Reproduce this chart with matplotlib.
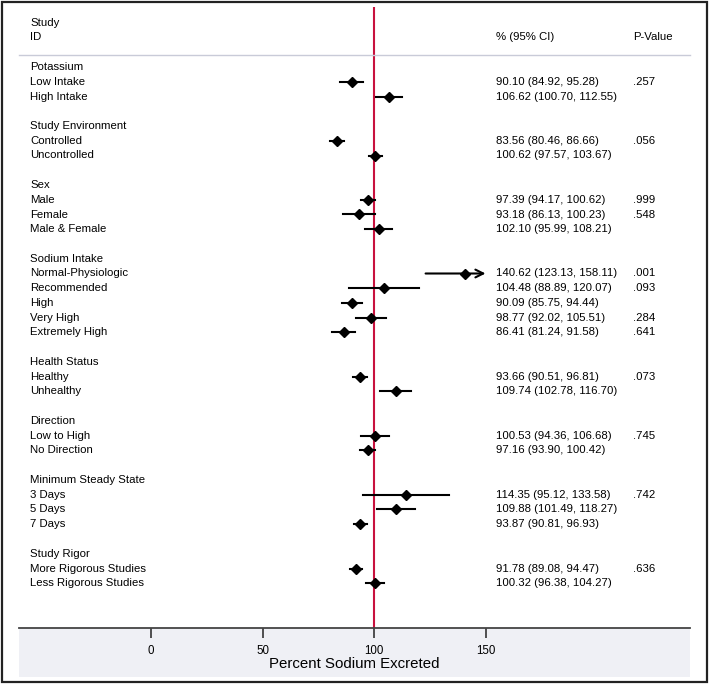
import matplotlib
matplotlib.use("Agg")
from matplotlib import pyplot as plt
from matplotlib.patches import Rectangle

# data
groups = ["Potassium", "Study Environment", "Sex", "Sodium Intake",
          "Health Status", "Direction", "Minimum Steady State", "Study Rigor"]
labels = [
    ["Low Intake", "High Intake"],
    ["Controlled", "Uncontrolled"],
    ["Male", "Female", "Male & Female"],
    ["Normal-Physiologic", "Recommended", "High", "Very High", "Extremely High"],
    ["Healthy", "Unhealthy"],
    ["Low to High", "No Direction"],
    ["3 Days", "5 Days", "7 Days"],
    ["More Rigorous Studies", "Less Rigorous Studies"],
]
est = [[90.10, 106.62], [83.56, 100.62], [97.39, 93.18, 102.10],
       [140.62, 104.48, 90.09, 98.77, 86.41], [93.66, 109.74],
       [100.53, 97.16], [114.35, 109.88, 93.87], [91.78, 100.32]]
lo = [[84.92, 100.70], [80.46, 97.57], [94.17, 86.13, 95.99],
      [123.13, 88.89, 85.75, 92.02, 81.24], [90.51, 102.78],
      [94.36, 93.90], [95.12, 101.49, 90.81], [89.08, 96.38]]
hi = [[95.28, 112.55], [86.66, 103.67], [100.62, 100.23, 108.21],
      [158.11, 120.07, 94.44, 105.51, 91.58], [96.81, 116.70],
      [106.68, 100.42], [133.58, 118.27, 96.93], [94.47, 104.27]]
pvals = [[".257", ""], [".056", ""], [".999", ".548", ""],
         [".001", ".093", "", ".284", ".641"], [".073", ""],
         [".745", ""], [".742", "", ""], [".636", ""]]
ticks = [0, 50, 100, 150]

plt.rcParams['font.family'] = ['Liberation Sans', 'DejaVu Sans']
W, H = 709, 684
fig = plt.figure(figsize=(W / 100, H / 100), dpi=100)

# pixel helpers
def fx(px):
    return px / W

def fy(py):
    return 1 - py / H

# grey band under axis and outer frame
fig.patches.append(Rectangle((fx(19), fy(677)), fx(690) - fx(19), fy(628) - fy(677),
                             transform=fig.transFigure, facecolor="#eff0f5", edgecolor="none", zorder=-1))
fig.patches.append(Rectangle((fx(2), fy(682)), fx(707) - fx(2), fy(2) - fy(682),
                             transform=fig.transFigure, facecolor="none", edgecolor="#222222",
                             lw=1.6, zorder=5))

ax = fig.add_axes([fx(19), fy(628), fx(690) - fx(19), fy(7) - fy(628)])
ax.set_facecolor("none")
x0, scale = 151, 2.23
ax.set_xlim((19 - x0) / scale, (690 - x0) / scale)
row0, step = 67, 14.75
ax.set_ylim((628 - row0) / step, (7 - row0) / step)

xl = (30 - x0) / scale
xci = (496 - x0) / scale
xp = (633 - x0) / scale
fs = 8.2

ax.text(xl, (23 - row0) / step, "Study", fontsize=fs, va="center")
ax.text(xl, (37 - row0) / step, "ID", fontsize=fs, va="center")
ax.text(xci, (37 - row0) / step, "% (95% CI)", fontsize=fs, va="center")
ax.text(xp, (37 - row0) / step, "P-Value", fontsize=fs, va="center")
ax.plot([(19 - x0) / scale, (690 - x0) / scale], [(55 - row0) / step] * 2,
        color="#c9cbd8", lw=1.0, clip_on=False)

ax.axvline(100, color="#c8123e", lw=1.5, zorder=1)

r = 0
for g, labs, es, ls, hs, ps in zip(groups, labels, est, lo, hi, pvals):
    ax.text(xl, r, g, fontsize=fs, va="center")
    r += 1
    for lab, e, l, h, p in zip(labs, es, ls, hs, ps):
        ax.text(xl, r, lab, fontsize=fs, va="center")
        ax.text(xci, r, f"{e:.2f} ({l:.2f}, {h:.2f})", fontsize=fs, va="center")
        ax.text(xp, r, p, fontsize=fs, va="center")
        if h > 150:
            ax.annotate("", xy=(150, r), xytext=(l, r),
                        arrowprops=dict(arrowstyle="->", lw=1.5, color="black",
                                        mutation_scale=14, shrinkA=0, shrinkB=0))
        else:
            ax.plot([l, h], [r, r], color="black", lw=1.5, zorder=2)
        ax.plot(e, r, marker="D", color="black", markersize=4.6, zorder=3)
        r += 1
    r += 1

for s in ["top", "left", "right"]:
    ax.spines[s].set_visible(False)
ax.spines["bottom"].set_color("#444444")
ax.spines["bottom"].set_linewidth(1.3)
ax.set_yticks([])
ax.set_xticks(ticks)
ax.tick_params(axis="x", length=7, width=1.2, color="#333333", labelsize=8.3, pad=5)
ax.set_xlabel("Percent Sodium Excreted", fontsize=10.8, labelpad=0)

fig.savefig("out.png", dpi=100)
